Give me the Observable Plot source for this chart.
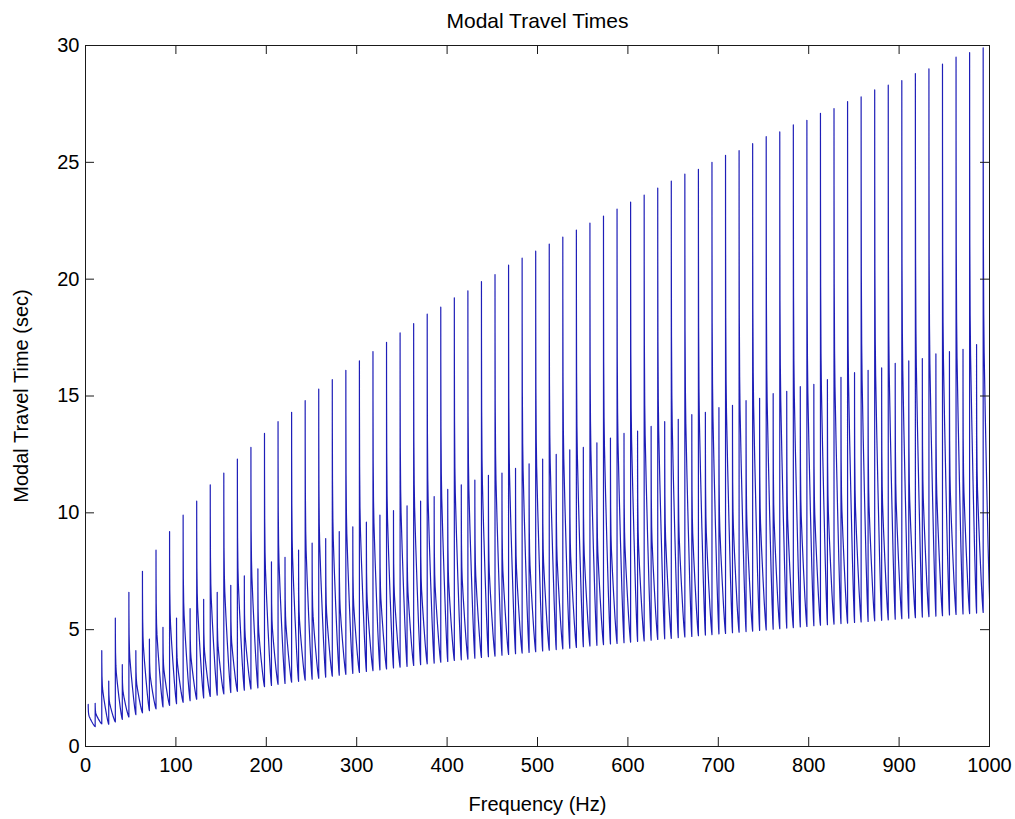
<!DOCTYPE html>
<html><head><meta charset="utf-8">
<script src="https://cdn.jsdelivr.net/npm/d3@7"></script>
<script src="https://cdn.jsdelivr.net/npm/@observablehq/plot@0.6"></script>
<style>html,body{margin:0;padding:0;background:#fff;}</style>
</head><body><div id="chart"></div>
<script>
// Tall spikes (every ~15 Hz): frequency, peak travel time, trough just before the rise
const tallHz = [3,18,33,48,63,78,93,108,123,138,153,168,183,198,213,228,243,258,273,288,303,318,333,348,363,378,393,408,423,438,453,468,483,498,513,528,543,558,573,588,603,618,633,648,663,678,693,708,723,738,753,768,783,798,813,828,843,858,873,888,903,918,933,948,963,978,993];
const tallPeak = [1.8,4.1,5.5,6.6,7.5,8.4,9.2,9.9,10.5,11.2,11.7,12.3,12.8,13.4,13.9,14.3,14.8,15.3,15.7,16.1,16.5,16.9,17.3,17.7,18.1,18.5,18.8,19.2,19.5,19.9,20.2,20.6,20.9,21.2,21.5,21.8,22.1,22.4,22.7,23.0,23.3,23.6,23.9,24.2,24.5,24.7,25.0,25.3,25.5,25.8,26.1,26.3,26.6,26.8,27.1,27.3,27.6,27.8,28.1,28.3,28.5,28.8,29.0,29.2,29.5,29.7,29.9];
const tallBase = [null,0.97,1.05,1.26,1.44,1.61,1.76,1.89,2.02,2.14,2.25,2.36,2.46,2.56,2.66,2.75,2.84,2.92,3.01,3.09,3.17,3.25,3.32,3.40,3.47,3.54,3.61,3.68,3.74,3.81,3.87,3.94,4.00,4.06,4.12,4.18,4.24,4.30,4.36,4.41,4.47,4.52,4.58,4.63,4.69,4.74,4.79,4.84,4.89,4.94,4.99,5.04,5.09,5.14,5.19,5.24,5.28,5.33,5.38,5.42,5.47,5.51,5.56,5.60,5.65,5.69,5.74];

// Intermediate spikes (half-way between the tall ones)
const midHz = [10.7,25.7,40.7,55.7,70.7,85.7,100.7,115.7,130.7,145.7,160.7,175.7,190.7,205.7,220.7,235.7,250.7,265.7,280.7,295.7,310.7,325.7,340.7,355.7,370.7,385.7,400.7,415.7,430.7,445.7,460.7,475.7,490.7,505.7,520.7,535.7,550.7,565.7,580.7,595.7,610.7,625.7,640.7,655.7,670.7,685.7,700.7,715.7,730.7,745.7,760.7,775.7,790.7,805.7,820.7,835.7,850.7,865.7,880.7,895.7,910.7,925.7,940.7,955.7,970.7,985.7,1000.7];
const midPeak = [1.85,2.8,3.5,4.1,4.6,5.1,5.5,5.9,6.3,6.6,6.9,7.3,7.6,7.9,8.1,8.4,8.7,8.9,9.2,9.4,9.6,9.9,10.1,10.3,10.5,10.7,11.0,11.2,11.4,11.6,11.7,11.9,12.1,12.3,12.5,12.7,12.8,13.0,13.2,13.4,13.5,13.7,13.9,14.0,14.2,14.3,14.5,14.6,14.8,14.9,15.1,15.2,15.4,15.5,15.7,15.8,16.0,16.1,16.2,16.4,16.5,16.6,16.8,16.9,17.0,17.2,17.3];
const midBase = [0.85,0.95,1.16,1.36,1.53,1.69,1.83,1.96,2.08,2.20,2.31,2.41,2.51,2.61,2.70,2.79,2.88,2.97,3.05,3.13,3.21,3.28,3.36,3.43,3.50,3.57,3.64,3.71,3.78,3.84,3.91,3.97,4.03,4.09,4.15,4.21,4.27,4.33,4.39,4.44,4.50,4.55,4.61,4.66,4.71,4.77,4.82,4.87,4.92,4.97,5.02,5.07,5.12,5.17,5.21,5.26,5.31,5.35,5.40,5.45,5.49,5.54,5.58,5.63,5.67,5.71,5.76];

// Shape of one decay after a spike:
// [fraction of the way to the next spike, fraction of the excess above the next trough]
const decayShape = [[0.005,0.85],[0.03,0.66],[0.08,0.53],[0.14,0.46],[0.3,0.35],[0.5,0.23],[0.7,0.12],[0.85,0.05],[0.95,0.012]];

const xTicks = [0,100,200,300,400,500,600,700,800,900,1000];
const yTicks = [0,5,10,15,20,25,30];

const spikes = [
  ...tallHz.map((hz, i) => ({hz, peak: tallPeak[i], base: tallBase[i]})),
  ...midHz.map((hz, i) => ({hz, peak: midPeak[i], base: midBase[i]}))
].sort((a, b) => a.hz - b.hz);

const pts = [];
spikes.forEach((s, i) => {
  if (s.base != null) pts.push({f: s.hz, t: s.base});
  pts.push({f: s.hz, t: s.peak});
  const n = spikes[i + 1];
  if (!n) return;
  for (const [u, e] of decayShape) {
    pts.push({f: s.hz + u * (n.hz - s.hz), t: n.base + (s.peak - n.base) * e});
  }
});

const W = 1015, H = 819, mL = 85, mR = 26, mT = 45, mB = 73;
const fh = H - mT - mB, fw = W - mL - mR, tk = 9;
const ink = "#1a1a1a";

const chart = Plot.plot({
  width: W, height: H,
  marginLeft: mL, marginRight: mR, marginTop: mT, marginBottom: mB,
  style: {fontFamily: "'Liberation Sans', Arial, Helvetica, sans-serif", fontSize: "20px", color: "#000", background: "#fff"},
  x: {domain: [0, 1000]},
  y: {domain: [0, 30]},
  marks: [
    Plot.line(pts, {x: "f", y: "t", stroke: "#1e1eb8", strokeWidth: 1.2, clip: true}),
    Plot.frame({stroke: ink}),
    Plot.tickX(xTicks, {x: d => d, insetTop: fh - tk, stroke: ink}),
    Plot.tickX(xTicks, {x: d => d, insetBottom: fh - tk, stroke: ink}),
    Plot.tickY(yTicks, {y: d => d, insetRight: fw - tk, stroke: ink}),
    Plot.tickY(yTicks, {y: d => d, insetLeft: fw - tk, stroke: ink}),
    Plot.axisX({ticks: xTicks, tickSize: 0, tickPadding: 11, tickFormat: d => String(d), label: null}),
    Plot.axisY({ticks: yTicks, tickSize: 0, tickPadding: 6, tickFormat: d => String(d), label: null}),
    Plot.text(["Modal Travel Times"], {frameAnchor: "top", lineAnchor: "bottom", dy: -18, fontSize: 21}),
    Plot.text(["Frequency (Hz)"], {frameAnchor: "bottom", lineAnchor: "bottom", dy: 64, fontSize: 20}),
    Plot.text(["Modal Travel Time (sec)"], {frameAnchor: "left", textAnchor: "middle", lineAnchor: "bottom", rotate: -90, dx: -58, fontSize: 20})
  ]
});
document.getElementById("chart").appendChild(chart);
</script>
</body></html>
